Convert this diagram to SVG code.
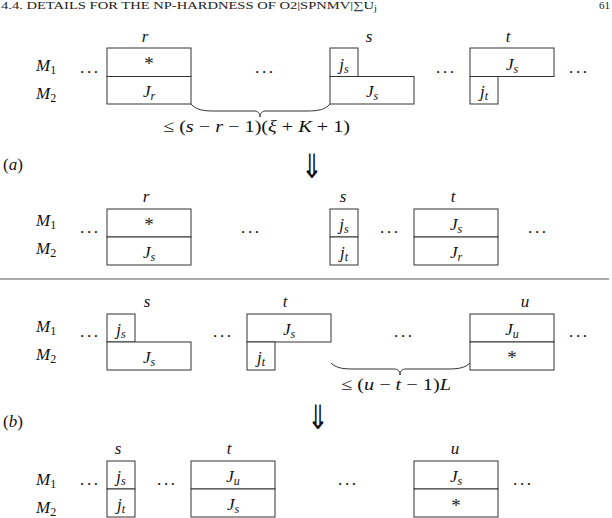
<svg xmlns="http://www.w3.org/2000/svg" width="612" height="518" viewBox="0 0 612 518">
<style>
.bx{fill:#fff;stroke:#333;stroke-width:1}
.m{font-family:"Liberation Serif",serif;font-style:italic;font-size:17px;fill:#111}
.c{text-anchor:middle}
.sd{font-style:normal;font-size:12px}
.si{font-style:italic;font-size:12px}
.up{font-style:normal}
.rm{font-family:"Liberation Serif",serif;font-size:17px;fill:#111}
.dots{font-family:"Liberation Serif",serif;font-size:17px;fill:#111}
.ast{font-family:"Liberation Serif",serif;font-size:19px;fill:#222;text-anchor:middle}
.br{fill:none;stroke:#333;stroke-width:1}
.arr{font-family:"DejaVu Sans",sans-serif;font-size:32px;fill:#111;text-anchor:middle}
.hd{font-family:"Liberation Serif",serif;font-size:11px;fill:#222}
</style>

<g id="header">
<text class="hd" x="1" y="9" textLength="376" lengthAdjust="spacingAndGlyphs">4.4.  DETAILS FOR THE NP-HARDNESS OF O2|SPNMV|∑U<tspan font-size="8" dy="2">j</tspan></text>
<text class="hd" x="610" y="9" text-anchor="end">61</text>
</g>

<!-- ===== Part (a), before ===== -->
<g id="a1-labels">
<text class="m" x="36" y="71">M<tspan class="sd" dy="3">1</tspan></text>
<text class="m" x="36" y="99">M<tspan class="sd" dy="3">2</tspan></text>
<text class="m c" x="145" y="42">r</text>
<text class="m c" x="369" y="42">s</text>
<text class="m c" x="508" y="42">t</text>
<text class="dots" x="80" y="73" textLength="18">...</text>
<text class="dots" x="255" y="73" textLength="18">...</text>
<text class="dots" x="436" y="73" textLength="18">...</text>
<text class="dots" x="569" y="73" textLength="18">...</text>
</g>
<g id="a1-r">
<rect class="bx" x="107" y="48" width="84" height="28.5"/>
<rect class="bx" x="107" y="76.5" width="84" height="27.5"/>
<text class="ast" x="149" y="70">*</text>
<text class="m c" x="149" y="97">J<tspan class="si" dy="3">r</tspan></text>
</g>
<g id="a1-s">
<rect class="bx" x="330" y="48" width="28" height="28.5"/>
<rect class="bx" x="330" y="76.5" width="84" height="27.5"/>
<text class="m c" x="344" y="70">j<tspan class="si" dy="3">s</tspan></text>
<text class="m c" x="372" y="97">J<tspan class="si" dy="3">s</tspan></text>
</g>
<g id="a1-t">
<rect class="bx" x="470" y="48" width="84" height="28.5"/>
<rect class="bx" x="470" y="76.5" width="28" height="27.5"/>
<text class="m c" x="512" y="70">J<tspan class="si" dy="3">s</tspan></text>
<text class="m c" x="484" y="97">j<tspan class="si" dy="3">t</tspan></text>
</g>
<g id="connectors">
<path class="br" d="M191,104 C196,110 204,111 214,111 L254,111 C258,111 260,113 260,117 C260,113 262,111 266,111 L307,111 C317,111 325,110 330,104"/>
<path class="br" d="M331,363 C336,368 343,369 353,369 L394,369 C398,369 400,371 400,375 C400,371 402,369 406,369 L448,369 C458,369 465,368 470,363"/>
<line x1="0" y1="279" x2="609" y2="279" stroke="#555" stroke-width="1"/>
</g>
<g id="a-brace-label">
<text class="m" x="163" y="132" textLength="187" lengthAdjust="spacingAndGlyphs"><tspan class="up">≤ (</tspan>s<tspan class="up"> − </tspan>r<tspan class="up"> − 1)(</tspan>ξ<tspan class="up"> + </tspan>K<tspan class="up"> + 1)</tspan></text>
</g>
<g id="a-marker">
<text class="rm" x="3" y="170">(<tspan font-style="italic">a</tspan>)</text>
<text class="arr" transform="translate(312,178) scale(0.8,1.05)">⇓</text>
</g>

<!-- ===== Part (a), after ===== -->
<g id="a2-labels">
<text class="m" x="36" y="226">M<tspan class="sd" dy="3">1</tspan></text>
<text class="m" x="36" y="254">M<tspan class="sd" dy="3">2</tspan></text>
<text class="m c" x="146" y="202">r</text>
<text class="m c" x="343" y="202">s</text>
<text class="m c" x="453" y="202">t</text>
<text class="dots" x="80" y="233" textLength="18">...</text>
<text class="dots" x="241" y="233" textLength="18">...</text>
<text class="dots" x="380" y="233" textLength="18">...</text>
<text class="dots" x="528" y="233" textLength="18">...</text>
</g>
<g id="a2-r">
<rect class="bx" x="107" y="209" width="84" height="28"/>
<rect class="bx" x="107" y="237" width="84" height="28"/>
<text class="ast" x="149" y="231">*</text>
<text class="m c" x="149" y="258">J<tspan class="si" dy="3">s</tspan></text>
</g>
<g id="a2-s">
<rect class="bx" x="330" y="209" width="28" height="28"/>
<rect class="bx" x="330" y="237" width="28" height="28"/>
<text class="m c" x="344" y="230">j<tspan class="si" dy="3">s</tspan></text>
<text class="m c" x="344" y="258">j<tspan class="si" dy="3">t</tspan></text>
</g>
<g id="a2-t">
<rect class="bx" x="414" y="209" width="84" height="28"/>
<rect class="bx" x="414" y="237" width="84" height="28"/>
<text class="m c" x="456" y="230">J<tspan class="si" dy="3">s</tspan></text>
<text class="m c" x="456" y="258">J<tspan class="si" dy="3">r</tspan></text>
</g>

<!-- ===== Part (b), before ===== -->
<g id="b1-labels">
<text class="m" x="36" y="332">M<tspan class="sd" dy="3">1</tspan></text>
<text class="m" x="36" y="360">M<tspan class="sd" dy="3">2</tspan></text>
<text class="m c" x="147" y="307">s</text>
<text class="m c" x="285" y="307">t</text>
<text class="m c" x="525" y="307">u</text>
<text class="dots" x="80" y="337" textLength="18">...</text>
<text class="dots" x="213" y="337" textLength="18">...</text>
<text class="dots" x="394" y="337" textLength="18">...</text>
<text class="dots" x="569" y="337" textLength="18">...</text>
</g>
<g id="b1-s">
<rect class="bx" x="107" y="314" width="28" height="28"/>
<rect class="bx" x="107" y="342" width="84" height="28"/>
<text class="m c" x="121" y="335">j<tspan class="si" dy="3">s</tspan></text>
<text class="m c" x="149" y="363">J<tspan class="si" dy="3">s</tspan></text>
</g>
<g id="b1-t">
<rect class="bx" x="247" y="314" width="84" height="28"/>
<rect class="bx" x="247" y="342" width="28" height="28"/>
<text class="m c" x="289" y="335">J<tspan class="si" dy="3">s</tspan></text>
<text class="m c" x="261" y="363">j<tspan class="si" dy="3">t</tspan></text>
</g>
<g id="b1-u">
<rect class="bx" x="470" y="314" width="84" height="28"/>
<rect class="bx" x="470" y="342" width="84" height="28"/>
<text class="m c" x="512" y="335">J<tspan class="si" dy="3">u</tspan></text>
<text class="ast" x="512" y="364">*</text>
</g>
<g id="b-brace-label">
<text class="m" x="341" y="390" textLength="110" lengthAdjust="spacingAndGlyphs"><tspan class="up">≤ (</tspan>u<tspan class="up"> − </tspan>t<tspan class="up"> − 1)</tspan>L</text>
</g>
<g id="b-marker">
<text class="rm" x="3" y="427">(<tspan font-style="italic">b</tspan>)</text>
<text class="arr" transform="translate(318,429) scale(0.8,1.05)">⇓</text>
</g>

<!-- ===== Part (b), after ===== -->
<g id="b2-labels">
<text class="m" x="36" y="485">M<tspan class="sd" dy="3">1</tspan></text>
<text class="m" x="36" y="513">M<tspan class="sd" dy="3">2</tspan></text>
<text class="m c" x="118" y="454">s</text>
<text class="m c" x="229" y="454">t</text>
<text class="m c" x="455" y="454">u</text>
<text class="dots" x="80" y="485" textLength="18">...</text>
<text class="dots" x="157" y="485" textLength="18">...</text>
<text class="dots" x="338" y="485" textLength="18">...</text>
<text class="dots" x="513" y="485" textLength="18">...</text>
</g>
<g id="b2-s">
<rect class="bx" x="107" y="461" width="28" height="28"/>
<rect class="bx" x="107" y="489" width="28" height="28"/>
<text class="m c" x="121" y="482">j<tspan class="si" dy="3">s</tspan></text>
<text class="m c" x="121" y="510">j<tspan class="si" dy="3">t</tspan></text>
</g>
<g id="b2-t">
<rect class="bx" x="191" y="461" width="84" height="28"/>
<rect class="bx" x="191" y="489" width="84" height="28"/>
<text class="m c" x="233" y="482">J<tspan class="si" dy="3">u</tspan></text>
<text class="m c" x="233" y="510">J<tspan class="si" dy="3">s</tspan></text>
</g>
<g id="b2-u">
<rect class="bx" x="414" y="461" width="84" height="28"/>
<rect class="bx" x="414" y="489" width="84" height="28"/>
<text class="m c" x="456" y="482">J<tspan class="si" dy="3">s</tspan></text>
<text class="ast" x="456" y="512">*</text>
</g>
</svg>
